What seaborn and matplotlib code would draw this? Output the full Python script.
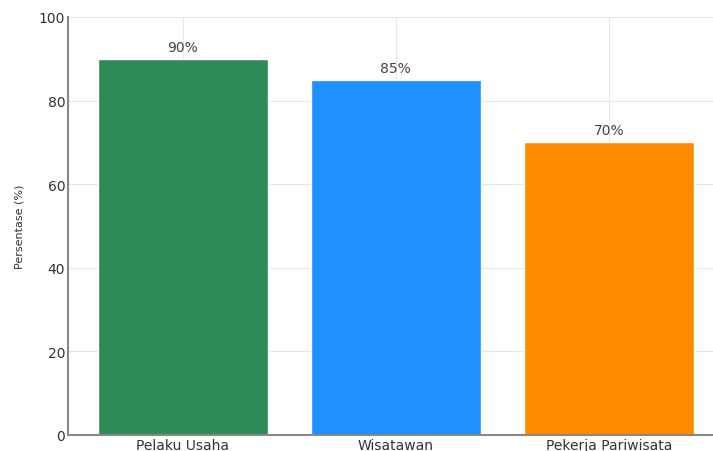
import matplotlib.pyplot as plt
import pandas as pd
import seaborn as sns

# Data
categories = ["Pelaku Usaha", "Wisatawan", "Pekerja Pariwisata"]
values = [90, 85, 70]
colors = ["#2E8B57", "#1E90FF", "#FF8C00"]

df = pd.DataFrame({"kategori": categories, "persen": values})

sns.set_style("white")
plt.rcParams["font.family"] = ["DejaVu Sans"]

fig = plt.figure(figsize=(7.13, 4.52), dpi=100)
ax = fig.add_axes([0.0954, 0.0354, 0.9046, 0.925])

sns.barplot(
    data=df,
    x="kategori",
    y="persen",
    hue="kategori",
    palette=colors,
    legend=False,
    width=0.8,
    saturation=1,
    ax=ax,
    zorder=2,
)

# value labels above bars
for i, v in enumerate(values):
    ax.text(i, v + 1.2, f"{v}%", ha="center", va="bottom", fontsize=10, color="#444444")

ax.set_ylim(0, 100)
ax.set_xlim(-0.54, 2.49)
ax.set_xlabel("")
ax.set_ylabel("Persentase (%)", fontsize=8, color="#333333", labelpad=10)

ax.grid(True, color="#e6e6e6", linewidth=0.8, zorder=0)
ax.set_axisbelow(True)
for side in ["top", "right"]:
    ax.spines[side].set_visible(False)
for side in ["left", "bottom"]:
    ax.spines[side].set_color("#888888")
    ax.spines[side].set_linewidth(1.5)

ax.tick_params(axis="both", labelsize=10, colors="#555555", labelcolor="#333333",
               length=2, width=1, direction="in", pad=2)

fig.savefig("out.png", dpi=100)
